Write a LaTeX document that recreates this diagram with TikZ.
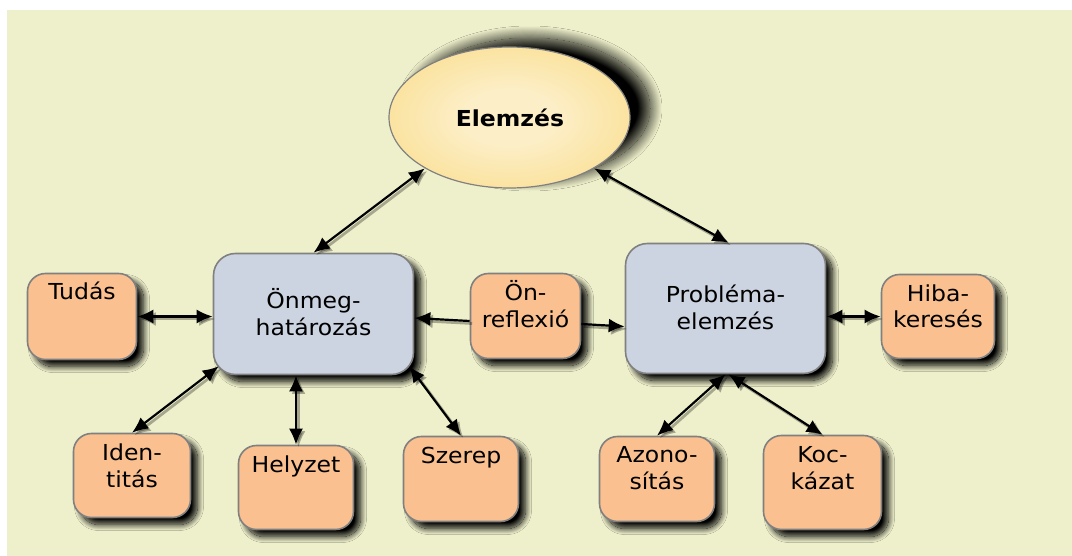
\documentclass[tikz,border=0pt]{standalone}
\usepackage{fontspec}
\setmainfont{DejaVu Sans}[FakeStretch=1.07]
\usetikzlibrary{shadows.blur,arrows.meta,calc,shapes.geometric}
\definecolor{bgc}{RGB}{238,240,203}
\definecolor{orf}{RGB}{250,192,143}
\definecolor{blf}{RGB}{204,211,225}
\definecolor{bdr}{RGB}{128,128,128}
\definecolor{ylo}{RGB}{249,215,118}
\definecolor{yli}{RGB}{252,238,198}
\pgfdeclareradialshading{ellsh}{\pgfpoint{0bp}{0bp}}{color(0bp)=(yli); color(10bp)=(yli); color(42bp)=(ylo); color(50bp)=(ylo)}
\newcommand\mylink[3][bi]{%
  \draw[ashadow,#1] #2 -- #3;
  \draw[aline,#1] #2 -- #3;}
\tikzset{
  box/.style={draw=bdr, line width=1.6pt, inner sep=0pt,
    blur shadow={shadow xshift=7pt, shadow yshift=-7pt, shadow blur radius=6pt, shadow blur steps=16, shadow opacity=100}},
  obox/.style={box, fill=orf, rounded corners=18pt},
  bbox/.style={box, fill=blf, rounded corners=22pt},
  lbl/.style={font=\fontsize{22}{27}\selectfont, align=center, inner sep=0pt, anchor=base},
  aline/.style={line width=2.2pt, black},
  ashadow/.style={line width=2.8pt, black, opacity=0.3, transform canvas={xshift=2.5pt,yshift=-2.5pt}},
  bi/.style={{Latex[length=16pt,width=14pt]}-{Latex[length=16pt,width=14pt]}},
  uni/.style={-{Latex[length=16pt,width=14pt]}},
}
\begin{document}
\begin{tikzpicture}[x=1pt,y=-1pt]
\useasboundingbox (0,0) rectangle (1072,556);
\fill[bgc] (7,10) rectangle (1072,556);

% top ellipse
\node[ellipse, draw=bdr, line width=1.2pt, minimum width=241pt, minimum height=141pt,
  shading=ellsh,
  blur shadow={shadow xshift=20pt, shadow yshift=9pt, shadow blur radius=12pt, shadow blur steps=24, shadow opacity=100}]
  (elem) at (509.5,117.5) {};
\node[lbl, font=\fontsize{22}{27}\selectfont\bfseries] (elemt) at (510,127) {Elemzés};

% main boxes
\node[bbox, minimum width=200pt, minimum height=121pt] (onmeg) at (313.5,314) {};
\node[lbl] (onmegt) at (313.5,336) {Önmeg-\\határozás};
\node[bbox, minimum width=200pt, minimum height=130pt] (probl) at (725.5,308.5) {};
\node[lbl] (problt) at (725.5,330) {Probléma-\\elemzés};

% small boxes
\node[obox, minimum width=109pt, minimum height=86pt] (tudas) at (82,316.5) {};
\node[lbl] (tudast) at (82,300) {Tudás};
\node[obox, minimum width=110pt, minimum height=85pt] (onref) at (525.5,316) {};
\node[lbl] (onreft) at (525.5,327) {Ön-\\reflexió};
\node[obox, minimum width=113pt, minimum height=84pt] (hiba) at (938,316.5) {};
\node[lbl] (hibat) at (938,328) {Hiba-\\keresés};
\node[obox, minimum width=117pt, minimum height=84pt] (ident) at (132,475.5) {};
\node[lbl] (identt) at (132,487) {Iden-\\titás};
\node[obox, minimum width=115pt, minimum height=84pt] (hely) at (296,487.5) {};
\node[lbl] (helyt) at (296,472) {Helyzet};
\node[obox, minimum width=115pt, minimum height=85pt] (szer) at (461,479) {};
\node[lbl] (szert) at (461,463) {Szerep};
\node[obox, minimum width=115pt, minimum height=85pt] (azon) at (657,479) {};
\node[lbl] (azont) at (657,489) {Azono-\\sítás};
\node[obox, minimum width=118pt, minimum height=94pt] (kock) at (822.5,482.5) {};
\node[lbl] (kockt) at (822.5,489) {Koc-\\kázat};

% connectors
\mylink{(elem.211)}{(onmeg.north)}
\mylink{(elem.329)}{([xshift=3pt]probl.north)}
\mylink{(tudas.east)}{(onmeg.west |- tudas.east)}
\mylink[uni]{([yshift=-5pt]onref.west)}{([yshift=-4pt]onmeg.east)}
\mylink[uni]{([yshift=-8pt]onref.east)}{([yshift=-18pt]probl.west)}
\mylink{([yshift=-8pt]probl.east)}{(hiba.west)}
\mylink{([xshift=6pt,yshift=9pt]onmeg.south west)}{(ident.north)}
\mylink{(hely.north |- onmeg.south)}{(hely.north)}
\mylink{([xshift=-5pt,yshift=9pt]onmeg.south east)}{(szer.north)}
\mylink{(probl.south)}{(azon.north)}
\mylink{([xshift=3pt]probl.south)}{(kock.north)}
\end{tikzpicture}
\end{document}
